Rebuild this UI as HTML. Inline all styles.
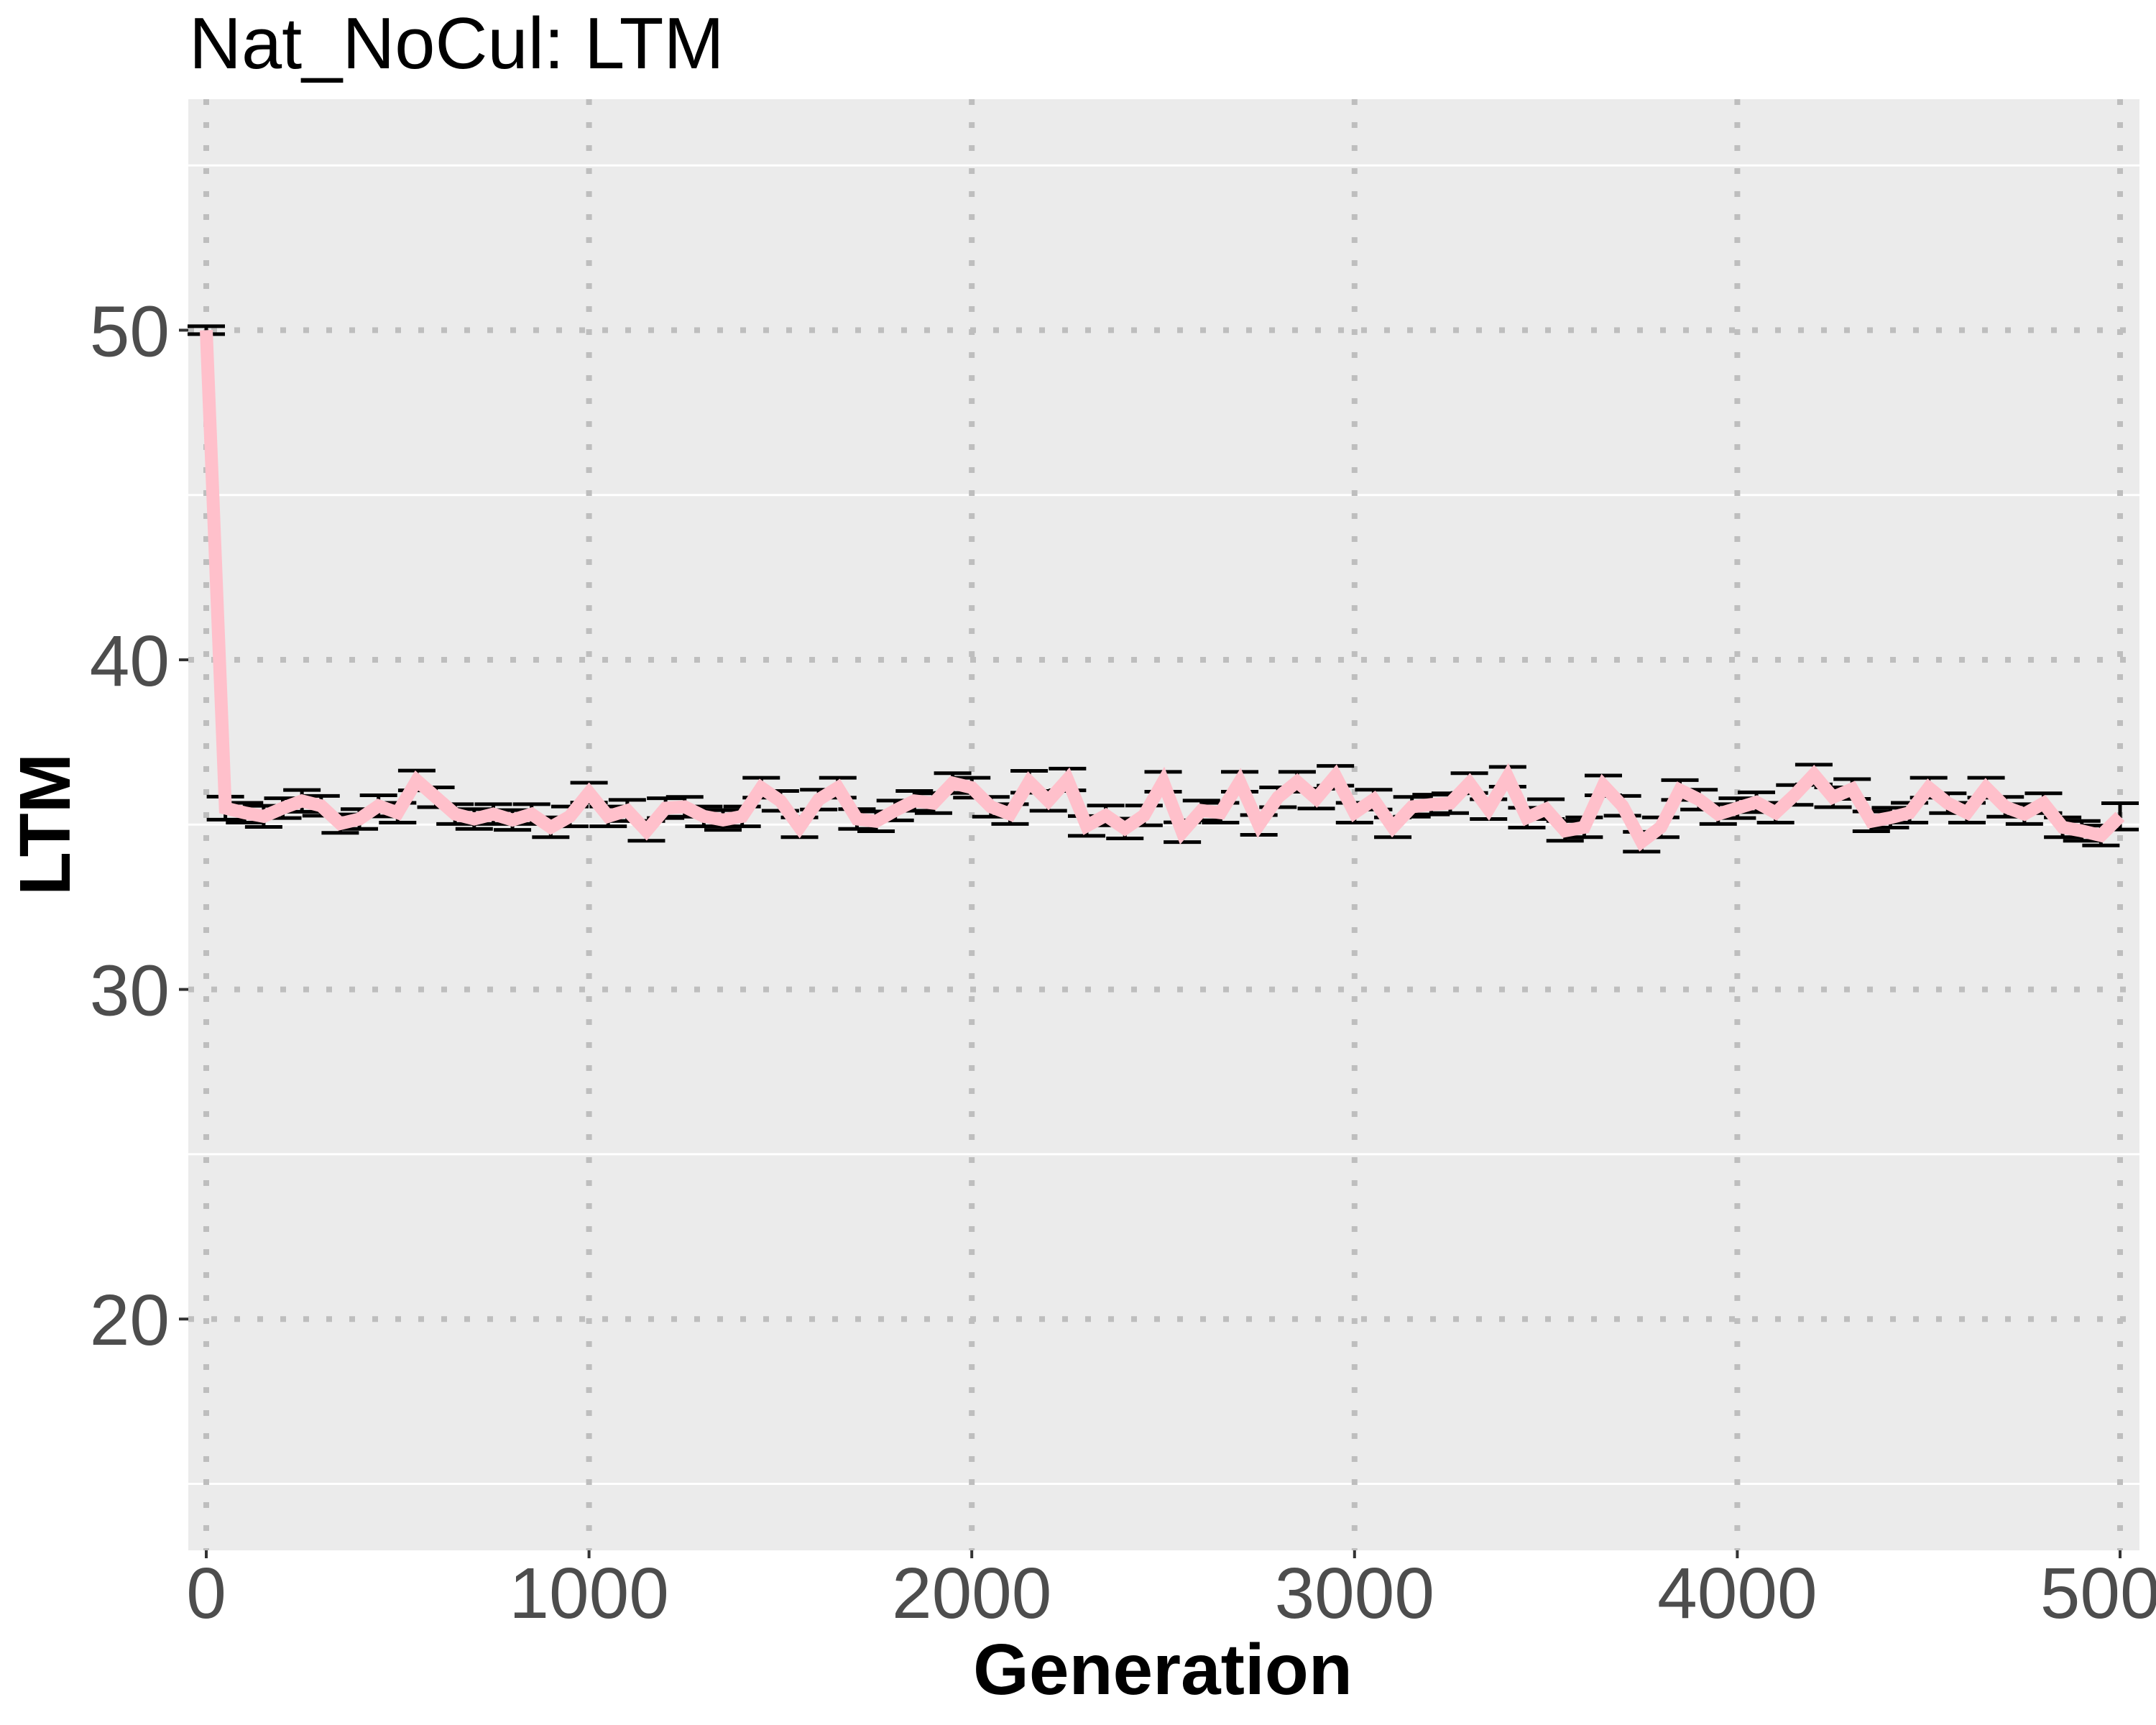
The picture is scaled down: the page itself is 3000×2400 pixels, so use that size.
<!DOCTYPE html>
<html><head><meta charset="utf-8"><style>
html,body{margin:0;padding:0;background:#fff;width:3000px;height:2400px;overflow:hidden}
text{font-family:"Liberation Sans",sans-serif}
</style></head><body>
<svg id="chart" width="3000" height="2400" xmlns="http://www.w3.org/2000/svg">
<text x="263" y="95" font-size="101" fill="#000">Nat_NoCul: LTM</text>
<rect x="262" y="138" width="2715" height="2019" fill="#ebebeb"/>
<g id="grid"></g>
<g id="series"></g>
<g id="axes"></g>
<text x="1618" y="2357" font-size="100" font-weight="bold" text-anchor="middle" fill="#000">Generation</text>
<text transform="translate(97,1147) rotate(-90)" font-size="100" font-weight="bold" text-anchor="middle" fill="#000">LTM</text>
</svg>
<script>
const generations = [0,50,100,150,200,250,300,350,400,450,500,550,600,650,700,750,800,850,900,950,1000,1050,1100,1150,1200,1250,1300,1350,1400,1450,1500,1550,1600,1650,1700,1750,1800,1850,1900,1950,2000,2050,2100,2150,2200,2250,2300,2350,2400,2450,2500,2550,2600,2650,2700,2750,2800,2850,2900,2950,3000,3050,3100,3150,3200,3250,3300,3350,3400,3450,3500,3550,3600,3650,3700,3750,3800,3850,3900,3950,4000,4050,4100,4150,4200,4250,4300,4350,4400,4450,4500,4550,4600,4650,4700,4750,4800,4850,4900,4950,5000];
const ltmMean = [50.0,35.50,35.36,35.25,35.50,35.72,35.57,35.03,35.17,35.57,35.36,36.34,35.83,35.32,35.17,35.32,35.14,35.32,34.92,35.25,35.97,35.25,35.43,34.81,35.50,35.54,35.25,35.14,35.25,36.12,35.72,34.92,35.76,36.12,35.17,35.10,35.43,35.72,35.65,36.26,36.12,35.54,35.32,36.30,35.72,36.37,34.96,35.28,34.88,35.28,36.30,34.77,35.43,35.36,36.30,34.99,35.83,36.30,35.79,36.48,35.36,35.76,34.92,35.54,35.61,35.65,36.26,35.47,36.45,35.21,35.47,34.81,34.92,36.19,35.57,34.48,34.92,36.05,35.76,35.32,35.50,35.68,35.36,35.90,36.52,35.83,36.08,35.10,35.21,35.36,36.12,35.65,35.36,36.12,35.54,35.32,35.65,34.92,34.81,34.67,35.25];
const ltmSE = [0.12,0.35,0.3,0.32,0.3,0.33,0.3,0.28,0.3,0.32,0.3,0.3,0.3,0.3,0.3,0.3,0.3,0.3,0.3,0.3,0.3,0.3,0.32,0.3,0.3,0.3,0.3,0.3,0.3,0.3,0.3,0.3,0.3,0.3,0.3,0.3,0.3,0.3,0.3,0.3,0.3,0.3,0.3,0.33,0.3,0.33,0.3,0.3,0.3,0.3,0.3,0.3,0.3,0.3,0.3,0.3,0.3,0.3,0.3,0.3,0.3,0.3,0.3,0.3,0.3,0.3,0.3,0.3,0.3,0.3,0.3,0.3,0.3,0.3,0.3,0.3,0.3,0.3,0.3,0.3,0.3,0.3,0.3,0.3,0.3,0.3,0.3,0.3,0.3,0.3,0.3,0.3,0.3,0.3,0.3,0.3,0.3,0.3,0.3,0.3,0.4];
const xTicks = [0,1000,2000,3000,4000,5000];
const xTickLabels = ["0","1000","2000","3000","4000","5000"];
const yTicks = [20,30,40,50];
const yTickLabels = ["20","30","40","50"];
const yMinor = [15,25,35,45,55];

const NS="http://www.w3.org/2000/svg";
const PL=262,PR=2977,PT=138,PB=2157;
function xs(g){return 287+(2950-287)*g/5000;}
function ys(v){return 918-(v-40)*45.86;}
function mk(tag,attrs,parent){const e=document.createElementNS(NS,tag);for(const k in attrs)e.setAttribute(k,attrs[k]);parent.appendChild(e);return e;}
const grid=document.getElementById('grid'),series=document.getElementById('series'),axes=document.getElementById('axes');
yMinor.forEach(v=>{const y=ys(v);if(y<PT||y>PB)return;
 const l=mk('line',{x1:PL,x2:PR,y1:y,y2:y,stroke:'#fff','stroke-width':3},grid);
 
 });
yTicks.forEach((v,i)=>{const y=ys(v);
 const l=mk('line',{x1:PL,x2:PR,y1:y,y2:y,stroke:'#bebebe','stroke-width':8,'stroke-dasharray':'8 24'},grid);
 
 
 const t=mk('line',{x1:249,x2:PL,y1:y,y2:y,stroke:'#333','stroke-width':4},axes);
 
 
 const tx=mk('text',{x:236,y:y+36,'font-size':100,'text-anchor':'end',fill:'#4d4d4d'},axes);
 tx.textContent=yTickLabels[i];
 
 });
xTicks.forEach((g,i)=>{const x=xs(g);
 const l=mk('line',{x1:x,x2:x,y1:PT,y2:PB,stroke:'#bebebe','stroke-width':8,'stroke-dasharray':'8 24'},grid);
 
 
 const t=mk('line',{x1:x,x2:x,y1:PB,y2:2168,stroke:'#333','stroke-width':4},axes);
 
 
 const tx=mk('text',{x:x,y:2251,'font-size':100,'text-anchor':'middle',fill:'#4d4d4d'},axes);
 tx.textContent=xTickLabels[i];
 
 });
generations.forEach((g,i)=>{const x=xs(g),y1=ys(ltmMean[i]+ltmSE[i]),y2=ys(ltmMean[i]-ltmSE[i]);
 const eb=mk('path',{d:`M${x-26},${y1}H${x+26}M${x},${y1}V${y2}M${x-26},${y2}H${x+26}`,stroke:'#000','stroke-width':5,fill:'none'},series);
 
 });
const pts=generations.map((g,i)=>xs(g)+','+ys(ltmMean[i])).join(' ');
const pl=mk('polyline',{points:pts,fill:'none',stroke:'#ffc0cb','stroke-width':18,'stroke-linejoin':'miter','stroke-miterlimit':4},series);


</script>
</body></html>
